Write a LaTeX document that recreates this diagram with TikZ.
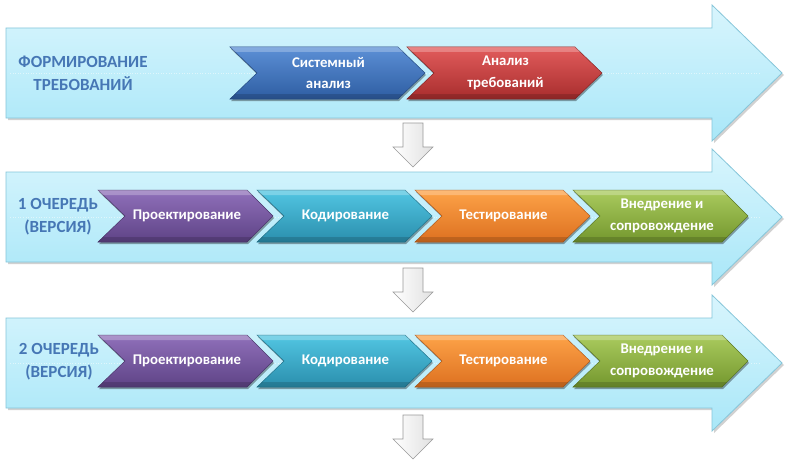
\documentclass[tikz,border=0pt]{standalone}
\usepackage{fontspec}
\setmainfont{Carlito}
\definecolor{arrtop}{HTML}{D8F5FD}
\definecolor{arrbot}{HTML}{A9E7F8}
\definecolor{arredge}{HTML}{86C6DA}
\definecolor{labcol}{HTML}{4677B5}
\definecolor{bluet}{HTML}{5C90D6}\definecolor{blueb}{HTML}{2E5DA2}
\definecolor{redt}{HTML}{E25C5C}\definecolor{redb}{HTML}{A82D2D}
\definecolor{purt}{HTML}{9070BA}\definecolor{purb}{HTML}{5E4386}
\definecolor{teat}{HTML}{52C6E2}\definecolor{teab}{HTML}{2A8EAD}
\definecolor{orat}{HTML}{FDA348}\definecolor{orab}{HTML}{DD7020}
\definecolor{gret}{HTML}{AACB5E}\definecolor{greb}{HTML}{74972E}
\tikzset{
  bigarr/.style={draw=arredge, line width=0.8pt, top color=arrtop, bottom color=arrbot},
  bigshadow/.style={fill=black, opacity=0.18, draw=none},
  downarr/.style={draw=black!40, line width=0.6pt, left color=white, right color=black!12},
  chevtext/.style={text=white, font=\bfseries\fontsize{14.8}{21.5}\selectfont, align=center, inner sep=0pt},
  labtext/.style={text=labcol, font=\bfseries\fontsize{17}{23}\selectfont, align=center, inner sep=0pt},
}
% big arrow: #1 = top of body
\newcommand\mybigarrow[1]{%
  \fill[bigshadow] (8,#1+2) -- (714,#1+2) -- (714,#1-21) -- (784,#1+47) -- (714,#1+115) -- (714,#1+92) -- (8,#1+92) -- cycle;
  \path[bigarr] (6,#1) -- (712,#1) -- (712,#1-23) -- (782,#1+45) -- (712,#1+113) -- (712,#1+90) -- (6,#1+90) -- cycle;
  \draw[white, opacity=0.5, line width=0.6pt, dotted] (10,#1+45) -- (760,#1+45);
}
% chevron: #1 name, #2 x0, #3 ytop, #4 x1 (corner), #5 tip, #6 top col, #7 bottom col, #8 text
\newcommand\mychev[8]{%
  \fill[black, opacity=0.35] (#2+1,#3+2) -- (#4+1,#3+2) -- (#5+1,#3+28) -- (#4+1,#3+54) -- (#2+1,#3+54) -- (#2+28,#3+28) -- cycle;
  \path[top color=#6, bottom color=#7, draw=#7!80!black, line width=0.5pt]
    (#2,#3) -- (#4,#3) -- (#5,#3+26) -- (#4,#3+52) -- (#2,#3+52) -- (#2+27,#3+26) -- cycle;
  \fill[white, opacity=0.25] (#2,#3) -- (#4,#3) -- (#4+5,#3+5) -- (#2+5,#3+5) -- cycle;
  \fill[black, opacity=0.15] (#2+5,#3+47) -- (#4+5,#3+47) -- (#4,#3+52) -- (#2,#3+52) -- cycle;
  \node[chevtext] (#1) at ({(#2+29+#4)/2},#3+26) {#8};
}
% down arrow: #1 top
\newcommand\mydownarrow[1]{%
  \path[downarr] (403,#1) -- (423,#1) -- (423,#1+24) -- (433,#1+24) -- (413,#1+44) -- (393,#1+24) -- (403,#1+24) -- cycle;
}
\begin{document}
\begin{tikzpicture}[x=1pt,y=-1pt]
\useasboundingbox (0,0) rectangle (787,460);
\fill[white] (0,0) rectangle (787,460);

% row 1
\mybigarrow{28}
\node[labtext] (lab1) at (83,73) {ФОРМИРОВАНИЕ\\ТРЕБОВАНИЙ};
\mychev{c11}{230}{47}{398}{425}{bluet}{blueb}{Системный\\анализ}
\mychev{c12}{407}{47}{575}{602}{redt}{redb}{Анализ\\требований}

\mydownarrow{123}

% row 2
\mybigarrow{172}
\node[labtext] (lab2) at (58,217) {1 ОЧЕРЕДЬ\\(ВЕРСИЯ)};
\mychev{c21}{98}{190}{247}{273}{purt}{purb}{Проектирование}
\mychev{c22}{257}{190}{405}{432}{teat}{teab}{Кодирование}
\mychev{c23}{415}{190}{563}{590}{orat}{orab}{Тестирование}
\mychev{c24}{573}{190}{722}{748}{gret}{greb}{Внедрение и\\сопровождение}

\mydownarrow{268}

% row 3
\mybigarrow{318}
\node[labtext] (lab3) at (59,362) {2 ОЧЕРЕДЬ\\(ВЕРСИЯ)};
\mychev{c31}{98}{335}{247}{273}{purt}{purb}{Проектирование}
\mychev{c32}{257}{335}{405}{432}{teat}{teab}{Кодирование}
\mychev{c33}{415}{335}{563}{590}{orat}{orab}{Тестирование}
\mychev{c34}{573}{335}{722}{748}{gret}{greb}{Внедрение и\\сопровождение}

\mydownarrow{415}
\end{tikzpicture}
\end{document}
